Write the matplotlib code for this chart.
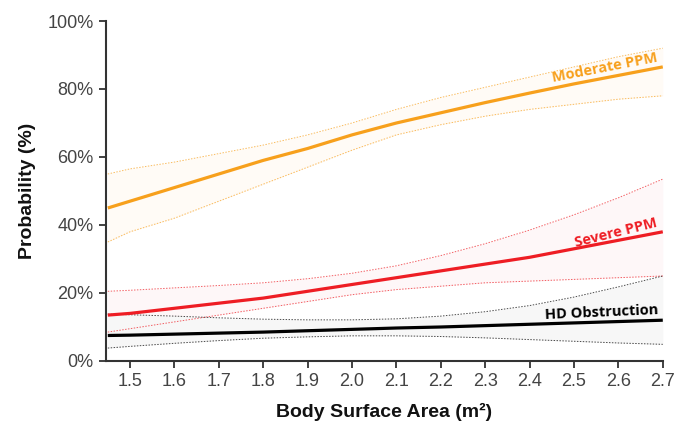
import matplotlib
matplotlib.use("Agg")
import matplotlib.pyplot as plt

bsa = [1.45, 1.5, 1.6, 1.7, 1.8, 1.9, 2.0, 2.1, 2.2, 2.3, 2.4, 2.5, 2.6, 2.7]

moderate_mean = [45, 47, 51, 55, 59, 62.5, 66.5, 70, 73, 76, 78.8, 81.5, 84, 86.5]
moderate_upper = [55, 56.5, 58.5, 61, 63.5, 66.5, 70, 74, 77.5, 80.5, 83.5, 86.5, 89.5, 92]
moderate_lower = [35, 38, 42, 47, 52, 57, 62, 66.5, 69.5, 72, 74, 75.5, 77, 78]

severe_mean = [13.5, 14, 15.5, 17, 18.5, 20.5, 22.5, 24.5, 26.5, 28.5, 30.5, 33, 35.5, 38]
severe_upper = [20.5, 20.8, 21.5, 22.2, 23, 24.2, 25.8, 28, 31, 34.5, 38.5, 43, 48, 53.5]
severe_lower = [8.5, 9.5, 11.5, 13.5, 15.5, 17.5, 19.5, 21, 22, 23, 23.5, 24, 24.5, 25]

hd_mean = [7.5, 7.6, 7.9, 8.2, 8.5, 8.9, 9.3, 9.7, 10.0, 10.4, 10.8, 11.2, 11.6, 12]
hd_upper = [13.8, 13.6, 13.2, 12.7, 12.3, 12.1, 12.1, 12.4, 13.2, 14.5, 16.3, 18.8, 21.8, 25]
hd_lower = [3.8, 4.3, 5.2, 6.0, 6.7, 7.1, 7.4, 7.4, 7.2, 6.8, 6.3, 5.8, 5.3, 4.9]

x_ticks = [1.5, 1.6, 1.7, 1.8, 1.9, 2.0, 2.1, 2.2, 2.3, 2.4, 2.5, 2.6, 2.7]
y_ticks = [0, 20, 40, 60, 80, 100]

font = "Liberation Sans"

fig = plt.figure(figsize=(6.77, 4.26), dpi=100)
ax = fig.add_axes([0.1566, 0.1526, 0.8224, 0.7981])

series = [
    (moderate_mean, moderate_upper, moderate_lower, "#F7A01C", "#FFFBF6"),
    (severe_mean, severe_upper, severe_lower, "#EE1D24", "#FEF7F8"),
    (hd_mean, hd_upper, hd_lower, "#000000", "#F7F7F7"),
]
for mean, up, lo, col, band in series:
    ax.fill_between(bsa, lo, up, color=band, lw=0, zorder=1)
    ax.plot(bsa, up, color=col, lw=0.7, ls=(0, (1.5, 1.5)), alpha=0.7, zorder=2)
    ax.plot(bsa, lo, color=col, lw=0.7, ls=(0, (1.5, 1.5)), alpha=0.7, zorder=2)
for mean, up, lo, col, band in series:
    ax.plot(bsa, mean, color=col, lw=2.3, zorder=3, solid_capstyle="butt")

lab_font = dict(family=["Open Sans", "DejaVu Sans"], fontweight="bold",
                rotation_mode="anchor", ha="right", va="bottom")
ax.text(2.69, 87.3, "Moderate PPM", color="#F7A01C", fontsize=10.5, rotation=11, **lab_font)
ax.text(2.69, 38.8, "Severe PPM", color="#EE1D24", fontsize=10.5, rotation=14, **lab_font)
ax.text(2.69, 12.8, "HD Obstruction", color="#000000", fontsize=10.5, rotation=2.5, **lab_font)

ax.set_xlim(1.446, 2.7)
ax.set_ylim(0, 100)
ax.set_xticks(x_ticks)
ax.set_xticklabels([f"{v:.1f}" for v in x_ticks])
ax.set_yticks(y_ticks)
ax.set_yticklabels([f"{v}%" for v in y_ticks])
for s in ["top", "right"]:
    ax.spines[s].set_visible(False)
for s in ["left", "bottom"]:
    ax.spines[s].set_color("#333333")
    ax.spines[s].set_linewidth(1.5)
ax.tick_params(axis="both", direction="out", length=5, width=1.3, color="#333333",
               labelcolor="#444444", labelsize=13, pad=4)
for lbl in ax.get_xticklabels() + ax.get_yticklabels():
    lbl.set_family(font)

ax.set_xlabel("Body Surface Area (m²)", family=font, fontweight="bold", fontsize=14,
              color="#111111", labelpad=9)
ax.set_ylabel("Probability (%)", family=font, fontweight="bold", fontsize=14,
              color="#111111", labelpad=8)

fig.savefig("out.png", dpi=100)
